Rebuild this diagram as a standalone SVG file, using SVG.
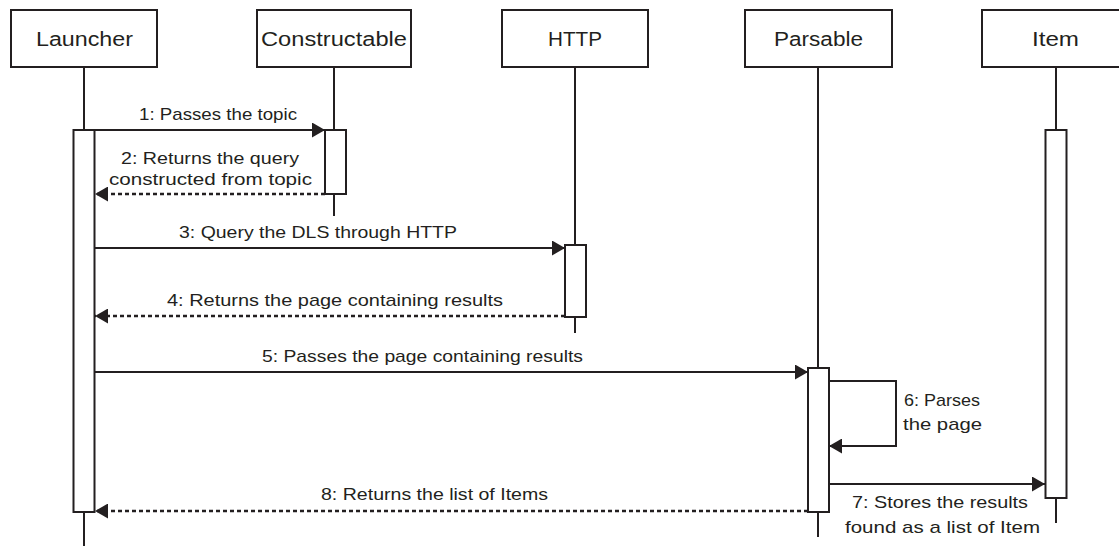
<svg xmlns="http://www.w3.org/2000/svg" width="1119" height="546" viewBox="0 0 1119 546">
<style>
.box{fill:#fff;stroke:#231f20;stroke-width:2}
.act{fill:#fff;stroke:#231f20;stroke-width:2}
.life{stroke:#231f20;stroke-width:2;fill:none}
.msg{stroke:#231f20;stroke-width:2;fill:none}
.ret{stroke:#231f20;stroke-width:2.5;fill:none;stroke-dasharray:4 3}
.name{font-family:"Liberation Sans",Arial,sans-serif;font-size:20px;fill:#231f20;text-anchor:middle}
.lbl{font-family:"Liberation Sans",Arial,sans-serif;font-size:17px;fill:#231f20;text-anchor:middle}
</style>
<defs>
<marker id="ah" viewBox="0 0 13 15" markerWidth="13" markerHeight="15" refX="13" refY="7.5" orient="auto" markerUnits="userSpaceOnUse">
<path d="M0,0 L13,7.5 L0,15 z" fill="#231f20"/>
</marker>
</defs>
<rect width="1119" height="546" fill="#fff"/>
<g id="launcher">
<line class="life" x1="84" y1="67" x2="84" y2="546"/>
<rect class="box" x="11" y="10" width="146" height="57"/>
<text class="name" x="84.5" y="46" textLength="97" lengthAdjust="spacingAndGlyphs">Launcher</text>
<rect class="act" x="73.5" y="130" width="21" height="382"/>
</g>
<g id="constructable">
<line class="life" x1="334" y1="67" x2="334" y2="216"/>
<rect class="box" x="257" y="10" width="154" height="57"/>
<text class="name" x="334" y="46" textLength="146" lengthAdjust="spacingAndGlyphs">Constructable</text>
<rect class="act" x="325" y="130" width="21" height="64"/>
</g>
<g id="http">
<line class="life" x1="575" y1="67" x2="575" y2="333"/>
<rect class="box" x="502" y="10" width="146" height="57"/>
<text class="name" x="575" y="46" textLength="54" lengthAdjust="spacingAndGlyphs">HTTP</text>
<rect class="act" x="565" y="245" width="21" height="72"/>
</g>
<g id="parsable">
<line class="life" x1="818" y1="67" x2="818" y2="537"/>
<rect class="box" x="745" y="10" width="147" height="57"/>
<text class="name" x="818.5" y="46" textLength="89" lengthAdjust="spacingAndGlyphs">Parsable</text>
<rect class="act" x="808" y="368" width="21" height="144"/>
</g>
<g id="item">
<line class="life" x1="1056" y1="67" x2="1056" y2="523"/>
<rect class="box" x="982" y="10" width="147" height="57"/>
<text class="name" x="1055.5" y="46" textLength="47" lengthAdjust="spacingAndGlyphs">Item</text>
<rect class="act" x="1045.5" y="130" width="21" height="368"/>
</g>
<g id="connectors">
<line class="msg" x1="95" y1="130" x2="325" y2="130" marker-end="url(#ah)"/>
<line class="ret" x1="325" y1="194" x2="95" y2="194" marker-end="url(#ah)"/>
<line class="msg" x1="95" y1="248" x2="565" y2="248" marker-end="url(#ah)"/>
<line class="ret" x1="565" y1="316" x2="95" y2="316" marker-end="url(#ah)"/>
<line class="msg" x1="95" y1="372" x2="808" y2="372" marker-end="url(#ah)"/>
<polyline class="msg" points="829,381 896,381 896,446 829,446" marker-end="url(#ah)"/>
<line class="msg" x1="829" y1="484" x2="1045" y2="484" marker-end="url(#ah)"/>
<line class="ret" x1="808" y1="511" x2="95" y2="511" marker-end="url(#ah)"/>
</g>
<g id="labels">
<text class="lbl" x="218" y="120" textLength="158" lengthAdjust="spacingAndGlyphs">1: Passes the topic</text>
<text class="lbl" x="210" y="164" textLength="178" lengthAdjust="spacingAndGlyphs">2: Returns the query</text>
<text class="lbl" x="210.5" y="185" textLength="203" lengthAdjust="spacingAndGlyphs">constructed from topic</text>
<text class="lbl" x="318" y="238" textLength="278" lengthAdjust="spacingAndGlyphs">3: Query the DLS through HTTP</text>
<text class="lbl" x="335" y="306" textLength="336" lengthAdjust="spacingAndGlyphs">4: Returns the page containing results</text>
<text class="lbl" x="422.5" y="362" textLength="321" lengthAdjust="spacingAndGlyphs">5: Passes the page containing results</text>
<text class="lbl" x="942" y="406" textLength="76" lengthAdjust="spacingAndGlyphs">6: Parses</text>
<text class="lbl" x="942.5" y="430" textLength="79" lengthAdjust="spacingAndGlyphs">the page</text>
<text class="lbl" x="940" y="508" textLength="176" lengthAdjust="spacingAndGlyphs">7: Stores the results</text>
<text class="lbl" x="942.5" y="533" textLength="195" lengthAdjust="spacingAndGlyphs">found as a list of Item</text>
<text class="lbl" x="434.5" y="500" textLength="227" lengthAdjust="spacingAndGlyphs">8: Returns the list of Items</text>
</g>
</svg>
